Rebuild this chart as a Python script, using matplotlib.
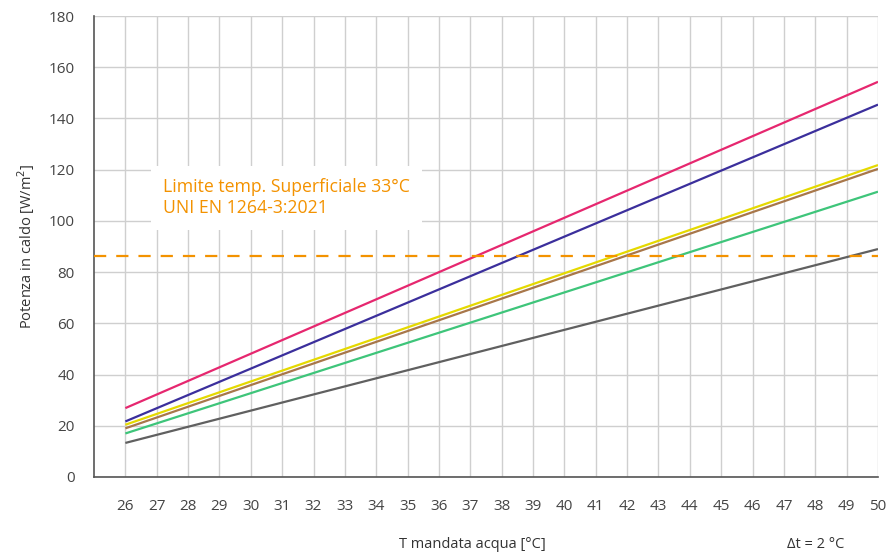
import matplotlib.pyplot as plt

# water supply temperature [°C] and heating output [W/m2] at the line ends
t_mandata = [26, 50]
pink = [26.9, 154.3]
blue = [21.7, 145.4]
yellow = [20.4, 121.8]
brown = [19.0, 120.3]
green = [17.0, 111.4]
grey = [13.3, 89.0]
limite = 86.3

x_ticks = list(range(26, 51))
y_ticks = list(range(0, 181, 20))

series = [
    (pink, '#e6276f'),
    (blue, '#3b2f9c'),
    (yellow, '#e5d900'),
    (brown, '#a8774a'),
    (green, '#3ec57a'),
    (grey, '#606060'),
]

plt.rcParams['font.family'] = ['Open Sans', 'DejaVu Sans']

fig = plt.figure(figsize=(8.89, 5.55), dpi=100)
ax = fig.add_axes([94 / 889, 1 - 477 / 555, (878 - 94) / 889, (477 - 16) / 555])

for vals, col in series:
    ax.plot(t_mandata, vals, color=col, lw=1.6, solid_capstyle='butt', zorder=3)

ax.axhline(limite, color='#f39200', lw=1.6, ls=(0, (5.5, 4.5)), zorder=3)

ax.set_xlim(25, 50)
ax.set_ylim(0, 180)
ax.set_xticks(x_ticks)
ax.set_yticks(y_ticks)
ax.grid(True, color='#cfcfcf', lw=1.0, zorder=0)
ax.tick_params(axis='both', length=0, labelsize=11, colors='#444444')
ax.tick_params(axis='x', pad=16)
ax.tick_params(axis='y', pad=14)

for s in ['top', 'right']:
    ax.spines[s].set_visible(False)
for s in ['left', 'bottom']:
    ax.spines[s].set_color('#555555')
    ax.spines[s].set_linewidth(1.2)

ax.text(27.2, 109.0, 'Limite temp. Superficiale 33°C\nUNI EN 1264-3:2021',
        color='#f39200', fontsize=12.7, linespacing=1.2, va='center', ha='left',
        zorder=4,
        bbox=dict(facecolor='white', edgecolor='none',
                  boxstyle='square,pad=0.7'))

ax.set_ylabel('Potenza in caldo [W/m$^2$]', fontsize=10.5, color='#333333', labelpad=8)
fig.text(472 / 889, 1 - 545 / 555, 'T mandata acqua [°C]', fontsize=10.5,
         color='#333333', ha='center', va='center')
fig.text(816 / 889, 1 - 545 / 555, '\u0394t = 2 °C', fontsize=10.5,
         color='#333333', ha='center', va='center')

fig.savefig('out.png', dpi=100)
